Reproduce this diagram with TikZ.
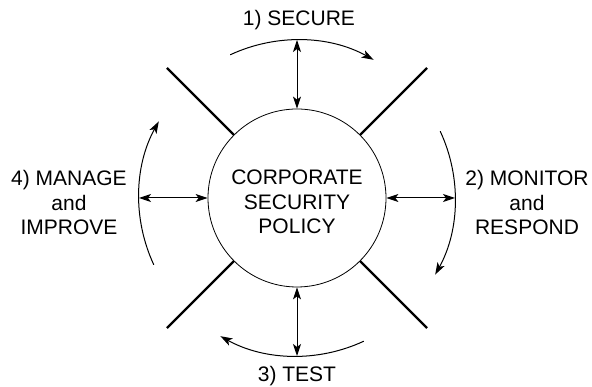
\documentclass[tikz,border=0pt]{standalone}
\usepackage{fontspec}
\setmainfont{Liberation Sans}
\usetikzlibrary{arrows.meta}
\begin{document}
\begin{tikzpicture}[x=1pt,y=1pt,
  lbl/.style={align=center,inner sep=0pt,font=\fontsize{21}{24.5}\selectfont},
  cyc/.style={line width=1pt,-{Stealth[length=12pt,width=8pt,inset=3pt]}},
  link/.style={line width=1pt,{Stealth[length=12pt,width=8pt,inset=3pt]}-{Stealth[length=12pt,width=8pt,inset=3pt]}},
  spoke/.style={line width=2.2pt}]
\useasboundingbox (0,0) rectangle (592,387);
\node[circle,draw,line width=0.8pt,minimum size=178pt,inner sep=0pt] (c) at (297,189) {};
\node[lbl] (ct) at (297,185) {CORPORATE\\SECURITY\\POLICY};
% spokes
\foreach \a/\n in {45/ne,135/nw,225/sw,315/se}{
  \coordinate (\n1) at ([shift={(c.center)}]\a:89pt);
  \coordinate (\n2) at ([shift={(c.center)}]\a:184pt);
  \draw[spoke] (\n1) -- (\n2);
}
% arc points
\coordinate (pt) at ([shift={(c.center)}]90:158pt);
\coordinate (pr) at ([shift={(c.center)}]0:158pt);
\coordinate (pb) at ([shift={(c.center)}]270:158pt);
\coordinate (pl) at ([shift={(c.center)}]180:158pt);
% cycle arcs
\draw[cyc] ([shift={(c.center)}]115:158pt) arc[start angle=115,end angle=61,radius=158pt];
\draw[cyc] ([shift={(c.center)}]25:158pt) arc[start angle=25,end angle=-29,radius=158pt];
\draw[cyc] ([shift={(c.center)}]-65:158pt) arc[start angle=-65,end angle=-119,radius=158pt];
\draw[cyc] ([shift={(c.center)}]205:158pt) arc[start angle=205,end angle=151,radius=158pt];
% links
\draw[link] (c.north) -- (pt);
\draw[link] (c.east) -- (pr);
\draw[link] (c.south) -- (pb);
\draw[link] (c.west) -- (pl);
% labels
\node[lbl] (l1) at (299,367) {1) SECURE};
\node[lbl] (l2) at (527,184) {2) MONITOR\\and\\RESPOND};
\node[lbl] (l3) at (297,11) {3) TEST};
\node[lbl] (l4) at (69,184) {4) MANAGE\\and\\IMPROVE};
\end{tikzpicture}
\end{document}
